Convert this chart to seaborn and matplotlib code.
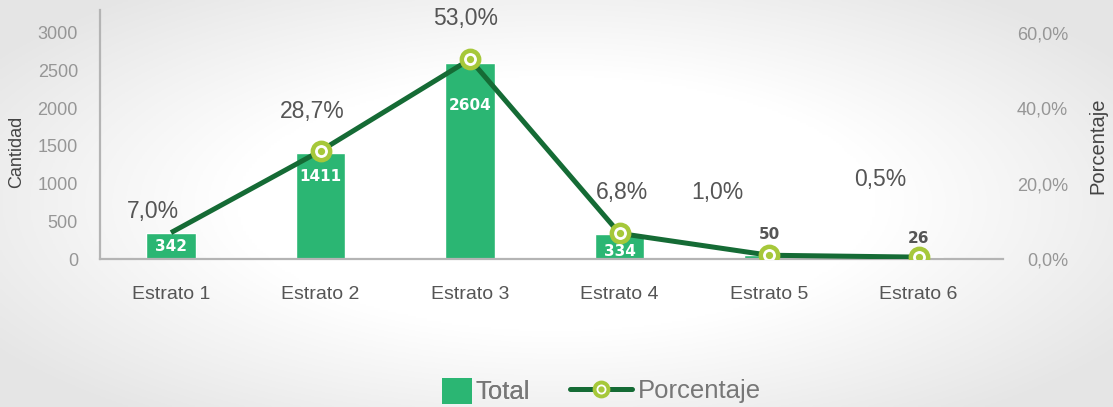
import numpy as np
import matplotlib
matplotlib.use("Agg")
import matplotlib.pyplot as plt
from matplotlib.lines import Line2D
from matplotlib.patches import Patch
import seaborn as sns

# ---- data ----
categories = ["Estrato 1", "Estrato 2", "Estrato 3", "Estrato 4", "Estrato 5", "Estrato 6"]
totals = [342, 1411, 2604, 334, 50, 26]
percentages = [7.0, 28.7, 53.0, 6.8, 1.0, 0.5]
left_ticks = [0, 500, 1000, 1500, 2000, 2500, 3000]
right_ticks = [0, 20, 40, 60]

# ---- style ----
sns.set_style("white")
plt.rcParams["font.family"] = ["Liberation Sans", "DejaVu Sans"]

bar_color = "#2bb673"
line_color = "#156b35"
ring_color = "#a6c83a"
PX = 72 / 100  # points per pixel

fig = plt.figure(figsize=(11.13, 4.07), dpi=100)

# background gradient
bg = fig.add_axes([0, 0, 1, 1], zorder=-10)
bg.axis("off")
yy, xx = np.mgrid[-1:1:200j, -1:1:400j]
r = np.sqrt((xx / 1.05) ** 2 + (yy / 1.15) ** 2)
shade = 1 - 0.1 * np.clip((r - 0.55) / 0.6, 0, 1)
bg.imshow(np.dstack([shade] * 3), aspect="auto", extent=[0, 1, 0, 1])

ax = fig.add_axes([100 / 1113, 1 - 259 / 407, 903 / 1113, 249 / 407])
ax.patch.set_alpha(0)
sns.barplot(x=categories, y=totals, color=bar_color, saturation=1, width=0.334, ax=ax)
ax.set_xlim(-0.475, 5.565)
ax.set_ylim(0, 3305)
ax.set_yticks(left_ticks)
ax.set_yticklabels([str(t) for t in left_ticks])
for s in ["top", "right"]:
    ax.spines[s].set_visible(False)
for s in ["left", "bottom"]:
    ax.spines[s].set_color("#b4b4b4")
    ax.spines[s].set_linewidth(1.6)
ax.tick_params(axis="y", length=0, pad=22 * PX, labelsize=13, labelcolor="#969696")
ax.tick_params(axis="x", length=0, pad=27 * PX, labelsize=14, labelcolor="#555555")
ax.set_xlabel("")
ax.set_ylabel("Cantidad", fontsize=13, color="#444444")
ax.yaxis.set_label_coords(-0.083, 0.43)

ax2 = ax.twinx()
ax2.set_ylim(0, 66.1)
for s in ax2.spines.values():
    s.set_visible(False)
x = np.arange(len(categories))
ax2.plot(x, percentages, color=line_color, lw=3.6, zorder=3, solid_capstyle="butt")
ax2.plot(x[1:], percentages[1:], "o", ms=12.5, mfc="white", mec=ring_color, mew=3.2, zorder=4)
ax2.plot(x[1:], percentages[1:], "o", ms=4.2, color=ring_color, zorder=5)
ax2.set_yticks(right_ticks)
ax2.set_yticklabels([f"{t:.1f}%".replace(".", ",") for t in right_ticks])
ax2.tick_params(axis="y", length=0, pad=65 * PX, labelsize=13, labelcolor="#969696")
for lbl in ax2.get_yticklabels():
    lbl.set_ha("right")
ax2.set_ylabel("Porcentaje", fontsize=14.5, color="#444444")
ax2.yaxis.set_label_coords(1.094, 0.454)

# percentage labels (offsets in px: dx, dy-up)
pct_offsets = [(-18, 21), (-8, 39), (-4, 41), (2, 41), (-52, 63), (-38, 78)]
for i, (p, (dx, dy)) in enumerate(zip(percentages, pct_offsets)):
    ax2.annotate(f"{p:.1f}%".replace(".", ","), (i, p), xytext=(dx * PX, dy * PX),
                 textcoords="offset points", ha="center", va="center",
                 fontsize=16.5, color="#555555", zorder=6)

# bar value labels (offset in px, negative = inside bar)
bar_offsets = [-13, -24, -43, -18, 21, 19]
for i, (v, dy) in enumerate(zip(totals, bar_offsets)):
    inside = dy < 0
    ax2.annotate(str(v), (i, v / 50), xytext=(0, dy * PX), textcoords="offset points",
                 ha="center", va="center", fontsize=11, fontweight="bold",
                 family="DejaVu Sans", color="white" if inside else "#555555", zorder=6)

# legends
h1 = Patch(facecolor=bar_color, edgecolor="none")
leg1 = fig.legend([h1], ["Total"], loc="center left", bbox_to_anchor=(442 / 1113, 1 - 391 / 407),
                  frameon=False, fontsize=18.5, handlelength=1.15, handleheight=1.2,
                  handletextpad=0.15, borderpad=0, borderaxespad=0, labelcolor="#777777")
hl = Line2D([], [], color=line_color, lw=3.6, marker="o", ms=10, mfc="white",
            mec=ring_color, mew=2.8)
hd = Line2D([], [], color=ring_color, lw=0, marker="o", ms=3.5)
leg2 = fig.legend([(hl, hd)], ["Porcentaje"], loc="center left",
                  bbox_to_anchor=(570 / 1113, 1 - 391 / 407), frameon=False, fontsize=18.5,
                  handlelength=2.4, handletextpad=0.25, borderpad=0, borderaxespad=0,
                  labelcolor="#777777")
fig.add_artist(leg1)

fig.savefig("out.png", dpi=100)
